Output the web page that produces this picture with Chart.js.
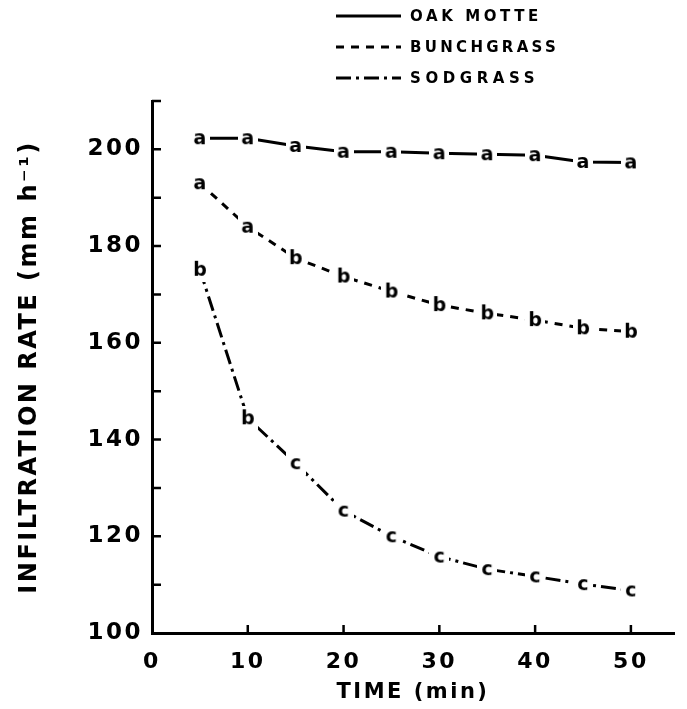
<!DOCTYPE html>
<html><head><meta charset="utf-8">
<script src="https://cdn.jsdelivr.net/npm/chart.js@4"></script>
<style>html,body{margin:0;padding:0;background:#fff}#wrap{width:687px;height:709px;position:relative}</style>
</head><body><div id="wrap"><canvas id="c"></canvas></div>
<script>
// ---- data ----
const times = [5, 10, 15, 20, 25, 30, 35, 40, 45, 50];
const oakMotte   = [202.3, 202.3, 200.7, 199.5, 199.5, 199.2, 199.0, 198.8, 197.4, 197.3];
const bunchgrass = [193.0, 184.0, 177.5, 173.7, 170.6, 167.8, 166.1, 164.7, 163.0, 162.3];
const sodgrass   = [175.1, 144.4, 135.1, 125.3, 120.0, 115.8, 113.2, 111.7, 110.1, 108.8];
const oakLetters   = ['a','a','a','a','a','a','a','a','a','a'];
const bunchLetters = ['a','a','b','b','b','b','b','b','b','b'];
const sodLetters   = ['b','b','c','c','c','c','c','c','c','c'];
const seriesNames = ['OAK MOTTE', 'BUNCHGRASS', 'SODGRASS'];
const xTickValues = [0, 10, 20, 30, 40, 50];
const yTickValues = [100, 120, 140, 160, 180, 200];
const yMinorTickValues = [110, 120, 130, 140, 150, 160, 170, 180, 190, 200, 210];
const xMinorTickValues = [10, 20, 30, 40, 50];
const xTitle = 'TIME (min)';
const yTitle = 'INFILTRATION RATE (mm h\u207B\u00B9)';

const FONT = '"DejaVu Sans", sans-serif';

function letterImage(ch) {
  const w = 20, h = 24;
  const cv = document.createElement('canvas');
  cv.width = w; cv.height = h;
  const g = cv.getContext('2d');
  g.fillStyle = '#fff';
  g.fillRect(0, 0, w, h);
  g.fillStyle = '#000';
  g.font = 'bold 19px ' + FONT;
  g.textAlign = 'center';
  g.textBaseline = 'alphabetic';
  g.fillText(ch, w / 2, h / 2 + 5.5);
  return cv;
}
const letterCache = {};
function img(ch) { return letterCache[ch] || (letterCache[ch] = letterImage(ch)); }

function pts(vals) { return times.map((t, i) => ({x: t, y: vals[i]})); }

const ds = (label, vals, letters, dash) => ({
  label,
  data: pts(vals),
  borderColor: '#000',
  backgroundColor: '#000',
  borderWidth: 3,
  borderDash: dash,
  segment: {borderDash: () => dash},
  tension: 0,
  pointStyle: letters.map(img),
  pointRadius: 10,
  pointHoverRadius: 10,
  fill: false
});

const inwardTicks = {
  id: 'inwardTicks',
  beforeDraw(chart) { chart.ctx.letterSpacing = '2.5px'; },
  afterDatasetsDraw(chart) {
    const {ctx, scales: {x, y}, chartArea: a} = chart;
    ctx.save();
    ctx.setLineDash([]);
    ctx.strokeStyle = '#000';
    ctx.lineWidth = 2.5;
    ctx.beginPath();
    yMinorTickValues.forEach(v => {
      const py = y.getPixelForValue(v);
      ctx.moveTo(a.left, py); ctx.lineTo(a.left + 9, py);
    });
    xMinorTickValues.forEach(v => {
      const px = x.getPixelForValue(v);
      ctx.moveTo(px, a.bottom); ctx.lineTo(px, a.bottom - 8);
    });
    ctx.stroke();
    ctx.restore();
  },
  afterDraw(chart) {
    // legend, built from the datasets
    const ctx = chart.ctx;
    const rows = [16, 47, 78];
    const spacing = ['3.6px', '3.3px', '4.6px'];
    ctx.save();
    chart.data.datasets.forEach((d, i) => {
      const yy = rows[i];
      ctx.strokeStyle = '#000';
      ctx.lineWidth = 3;
      ctx.setLineDash(d.borderDash || []);
      ctx.beginPath();
      ctx.moveTo(336, yy); ctx.lineTo(401, yy);
      ctx.stroke();
      ctx.setLineDash([]);
      ctx.fillStyle = '#000';
      ctx.font = 'bold 15px ' + FONT;
      ctx.letterSpacing = spacing[i];
      ctx.textBaseline = 'middle';
      ctx.textAlign = 'left';
      ctx.fillText(d.label, 410, yy + 1);
    });
    ctx.restore();
  }
};

new Chart(document.getElementById('c'), {
  type: 'line',
  data: {
    datasets: [
      ds(seriesNames[0], oakMotte, oakLetters, []),
      ds(seriesNames[1], bunchgrass, bunchLetters, [8, 7]),
      ds(seriesNames[2], sodgrass, sodLetters, [15, 5, 3, 5])
    ]
  },
  options: {
    responsive: true,
    maintainAspectRatio: false,
    animation: false,
    devicePixelRatio: 1,
    layout: {padding: {top: 101, left: 0, right: 0, bottom: 0}},
    plugins: {legend: {display: false}, tooltip: {enabled: false}},
    scales: {
      x: {
        type: 'linear',
        min: 0, max: 54.5,
        afterBuildTicks: s => { s.ticks = xTickValues.map(v => ({value: v})); },
        afterFit: s => { s.height = 76; },
        grid: {display: true, drawOnChartArea: false, drawTicks: false},
        border: {display: true, width: 3, color: '#000'},
        ticks: {color: '#000', padding: 16, maxRotation: 0, autoSkip: false,
                font: {family: FONT, weight: 'bold', size: 22}},
        title: {display: true, text: xTitle, color: '#000', padding: {top: 0, bottom: 4},
                font: {family: FONT, weight: 'bold', size: 21}}
      },
      y: {
        type: 'linear',
        min: 100, max: 210,
        afterBuildTicks: s => { s.ticks = yTickValues.map(v => ({value: v})); },
        afterFit: s => { s.width = 152; },
        grid: {display: true, drawOnChartArea: false, drawTicks: false},
        border: {display: true, width: 3, color: '#000'},
        ticks: {color: '#000', padding: 9, autoSkip: false,
                font: {family: FONT, weight: 'bold', size: 23}},
        title: {display: true, text: yTitle, color: '#000', padding: {top: 15, bottom: 0},
                font: {family: FONT, weight: 'bold', size: 24}}
      }
    }
  },
  plugins: [inwardTicks]
});
</script>
</body></html>
